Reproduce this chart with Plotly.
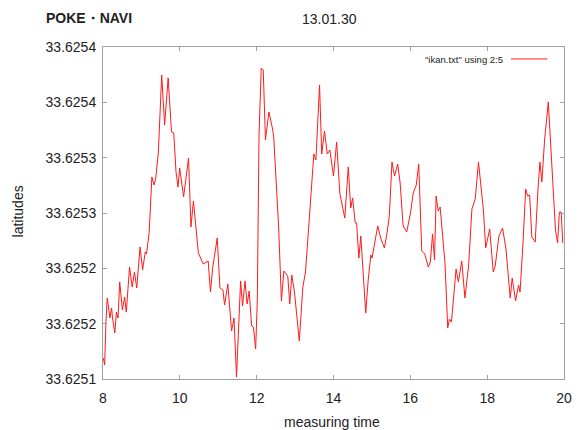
import plotly.graph_objects as go

# measuring time (hours)
times = [
    8.008, 8.043, 8.077, 8.110, 8.179, 8.223, 8.248, 8.307, 8.351, 8.391,
    8.435, 8.504, 8.563, 8.606, 8.691, 8.760, 8.819, 8.878, 8.965, 9.031,
    9.100, 9.133, 9.203, 9.272, 9.330, 9.374, 9.441, 9.528, 9.604, 9.696,
    9.783, 9.842, 9.901, 9.952, 9.996, 10.098, 10.226, 10.290, 10.354, 10.482,
    10.610, 10.738, 10.797, 10.858, 10.973, 11.045, 11.122, 11.165, 11.249, 11.347,
    11.411, 11.475, 11.582, 11.633, 11.697, 11.751, 11.805, 11.869, 11.915, 11.974,
    12.017, 12.061, 12.119, 12.171, 12.229, 12.319, 12.414, 12.444, 12.572, 12.644,
    12.708, 12.810, 12.861, 12.913, 12.984, 13.110, 13.202, 13.271, 13.353, 13.424,
    13.488, 13.542, 13.637, 13.693, 13.765, 13.839, 13.905, 14.000, 14.082, 14.166,
    14.264, 14.294, 14.384, 14.448, 14.499, 14.565, 14.601, 14.660, 14.711, 14.775,
    14.839, 14.901, 14.972, 15.003, 15.077, 15.151, 15.236, 15.325, 15.389, 15.453,
    15.522, 15.589, 15.671, 15.735, 15.812, 15.906, 16.009, 16.075, 16.154, 16.218,
    16.298, 16.374, 16.469, 16.520, 16.579, 16.630, 16.671, 16.725, 16.776, 16.835,
    16.904, 16.973, 17.019, 17.070, 17.129, 17.191, 17.250, 17.339, 17.421, 17.518,
    17.603, 17.690, 17.774, 17.838, 17.902, 17.961, 18.017, 18.066, 18.158, 18.209,
    18.306, 18.401, 18.490, 18.600, 18.652, 18.739, 18.818, 18.856, 18.936, 19.002,
    19.053, 19.105, 19.163, 19.250, 19.322, 19.373, 19.424, 19.493, 19.591, 19.683,
    19.778, 19.834, 19.880, 19.928, 19.967,
]

# latitudes
latitudes = [
    33.6251190, 33.6251127, 33.6251515, 33.6251732, 33.6251551, 33.6251642, 33.6251551, 33.6251416, 33.6251605, 33.6251551,
    33.6251877, 33.6251624, 33.6251741, 33.6251605, 33.6252012, 33.6251831, 33.6251967, 33.6251822, 33.6252193, 33.6251985,
    33.6252148, 33.6252130, 33.6252328, 33.6252825, 33.6252753, 33.6252816, 33.6253051, 33.6253747, 33.6253295, 33.6253720,
    33.6253232, 33.6253223, 33.6252871, 33.6252735, 33.6252907, 33.6252645, 33.6252997, 33.6252374, 33.6252608, 33.6252139,
    33.6252039, 33.6252066, 33.6251786, 33.6252012, 33.6252274, 33.6251822, 33.6251804, 33.6251669, 33.6251858, 33.6251434,
    33.6251551, 33.6251018, 33.6251886, 33.6251660, 33.6251886, 33.6251678, 33.6251795, 33.6251479, 33.6251470, 33.6251271,
    33.6251714, 33.6253196, 33.6253810, 33.6253792, 33.6253160, 33.6253413, 33.6253259, 33.6253187, 33.6252374, 33.6251705,
    33.6251976, 33.6251931, 33.6251678, 33.6251940, 33.6251786, 33.6251343, 33.6251831, 33.6251967, 33.6252364, 33.6252735,
    33.6253033, 33.6252979, 33.6253657, 33.6253033, 33.6253241, 33.6253033, 33.6253069, 33.6252834, 33.6253142, 33.6252672,
    33.6252482, 33.6252455, 33.6252916, 33.6252545, 33.6252636, 33.6252410, 33.6252410, 33.6252093, 33.6252292, 33.6251931,
    33.6251596, 33.6251886, 33.6252120, 33.6252093, 33.6252247, 33.6252383, 33.6252265, 33.6252184, 33.6252310, 33.6252473,
    33.6252961, 33.6252834, 33.6252943, 33.6252771, 33.6252383, 33.6252328, 33.6252509, 33.6252681, 33.6252753, 33.6252943,
    33.6252157, 33.6252130, 33.6252012, 33.6252057, 33.6252310, 33.6252075, 33.6252654, 33.6252518, 33.6252554, 33.6252346,
    33.6252039, 33.6251461, 33.6251542, 33.6251515, 33.6251750, 33.6251994, 33.6251877, 33.6252066, 33.6251732, 33.6252030,
    33.6252536, 33.6252627, 33.6252961, 33.6252744, 33.6252527, 33.6252184, 33.6252283, 33.6252355, 33.6251967, 33.6252021,
    33.6252292, 33.6252364, 33.6252175, 33.6251732, 33.6251913, 33.6251705, 33.6251849, 33.6251786, 33.6252247, 33.6252717,
    33.6252654, 33.6252663, 33.6252283, 33.6252238, 33.6252708, 33.6252961, 33.6252780, 33.6253151, 33.6253503, 33.6252979,
    33.6252346, 33.6252229, 33.6252509, 33.6252509, 33.6252229,
]

x_ticks = [8, 10, 12, 14, 16, 18, 20]
y_tickvals = [33.6251, 33.62515, 33.6252, 33.62525, 33.6253, 33.62535, 33.6254]
y_ticktext = ["33.6251", "33.6252", "33.6252", "33.6253", "33.6253", "33.6254", "33.6254"]

FONT = "Liberation Sans, Arial, sans-serif"
TXT = "#222222"
AX = "#a0a0a0"

fig = go.Figure()
fig.add_trace(go.Scatter(
    x=times, y=latitudes, mode="lines",
    line=dict(color="#ff1a1a", width=1),
    name='"ikan.txt" using 2:5', showlegend=False,
))

axis_common = dict(
    showgrid=False, zeroline=False, showline=True, linecolor=AX, linewidth=1,
    mirror="allticks", ticks="inside", ticklen=4, tickcolor=AX, tickwidth=1,
    tickfont=dict(family=FONT, size=14, color=TXT),
)

# the page body adds an 8px offset, so the figure is 8px smaller
fig.update_layout(
    width=574, height=422,
    margin=dict(l=95, r=10, t=39, b=51),
    paper_bgcolor="white", plot_bgcolor="white",
    font=dict(family=FONT, color=TXT),
    xaxis=dict(range=[8, 20], tickvals=x_ticks, ticklabelstandoff=6, **axis_common),
    yaxis=dict(range=[33.6251, 33.6254], tickvals=y_tickvals, ticktext=y_ticktext,
               ticklabelstandoff=3, **axis_common),
)

annotations = [
    dict(text="<b>POKE・NAVI</b>", x=-0.128, y=1.087, xanchor="left", yanchor="middle",
         font=dict(family=FONT, size=14, color=TXT)),
    dict(text="13.01.30", x=0.4904, y=1.084, xanchor="center", yanchor="middle",
         font=dict(family=FONT, size=14, color=TXT)),
    dict(text="latitudes", x=-0.1834, y=0.506, xanchor="center", yanchor="middle",
         textangle=-90, font=dict(family=FONT, size=14, color=TXT)),
    dict(text="measuring time", x=0.497, y=-0.1295, xanchor="center", yanchor="middle",
         font=dict(family=FONT, size=14, color=TXT)),
    dict(text='"ikan.txt" using 2:5', x=0.872, y=0.961, xanchor="right", yanchor="middle",
         font=dict(family=FONT, size=9.5, color=TXT)),
]
for a in annotations:
    a.update(xref="paper", yref="paper", showarrow=False)
fig.update_layout(annotations=annotations)

fig.add_shape(type="line", xref="paper", yref="paper", x0=0.885, x1=0.964, y0=0.964, y1=0.964,
              line=dict(color="#ff1a1a", width=1))

fig.write_html("out.html")
